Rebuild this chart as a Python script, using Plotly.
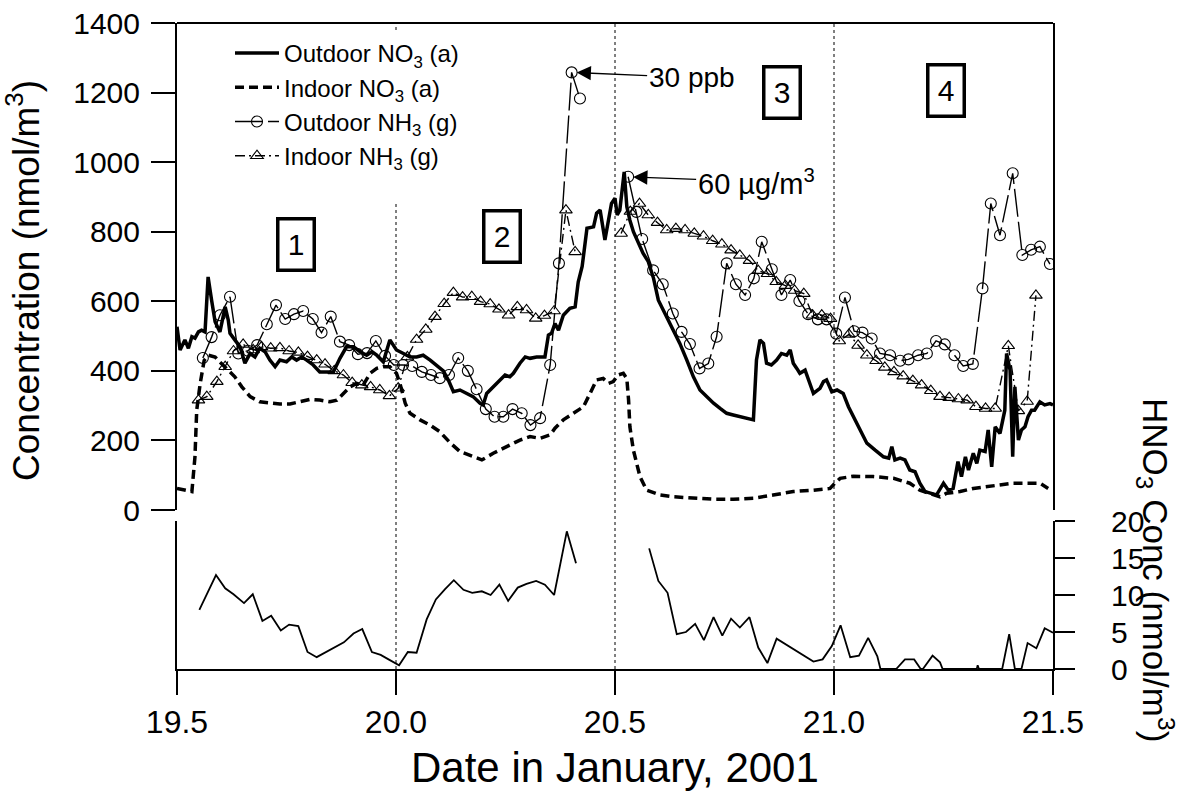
import plotly.graph_objects as go

FONT = "Liberation Sans, Arial, sans-serif"

# ---------------- data ----------------
# Outdoor NO3 (a), nmol/m3
out_no3_t = [19.500, 19.507, 19.518, 19.526, 19.534, 19.541, 19.549, 19.556, 19.564, 19.571,
             19.579, 19.587, 19.598, 19.610, 19.617, 19.621, 19.632, 19.644, 19.655, 19.667,
             19.678, 19.689, 19.701, 19.712, 19.724, 19.735, 19.750, 19.762, 19.773, 19.785,
             19.796, 19.811, 19.826, 19.842, 19.857, 19.872, 19.887, 19.903, 19.918, 19.933,
             19.945, 19.956, 19.971, 19.986, 19.994, 20.001, 20.017, 20.032, 20.047, 20.062,
             20.078, 20.093, 20.108, 20.120, 20.131, 20.146, 20.161, 20.176, 20.192, 20.199,
             20.207, 20.222, 20.237, 20.249, 20.260, 20.268, 20.283, 20.295, 20.306, 20.321,
             20.340, 20.348, 20.355, 20.363, 20.371, 20.382, 20.397, 20.409, 20.416, 20.425,
             20.436, 20.451, 20.458, 20.466, 20.477, 20.485, 20.492, 20.500, 20.505, 20.511,
             20.521, 20.527, 20.534, 20.542, 20.553, 20.564, 20.576, 20.588, 20.599, 20.618,
             20.633, 20.648, 20.664, 20.679, 20.694, 20.709, 20.725, 20.740, 20.755, 20.770,
             20.785, 20.801, 20.816, 20.823, 20.831, 20.839, 20.846, 20.857, 20.869, 20.880,
             20.892, 20.900, 20.907, 20.915, 20.922, 20.934, 20.941, 20.953, 20.968, 20.976,
             20.983, 20.995, 21.007, 21.021, 21.033, 21.044, 21.056, 21.075, 21.094, 21.113,
             21.125, 21.132, 21.139, 21.151, 21.162, 21.173, 21.185, 21.196, 21.208, 21.223,
             21.234, 21.250, 21.261, 21.272, 21.283, 21.291, 21.300, 21.307, 21.318, 21.326,
             21.333, 21.345, 21.352, 21.360, 21.368, 21.379, 21.390, 21.394, 21.402, 21.408,
             21.413, 21.421, 21.428, 21.436, 21.443, 21.451, 21.458, 21.470, 21.481, 21.493,
             21.500]
out_no3_v = [527, 460, 489, 465, 498, 494, 512, 517, 512, 670,
             603, 541, 512, 584, 546, 508, 489, 469, 422, 450,
             440, 465, 455, 431, 412, 431, 426, 440, 431, 440,
             431, 417, 397, 397, 397, 436, 469, 469, 455, 445,
             455, 445, 426, 489, 474, 460, 450, 440, 440, 445,
             431, 417, 400, 372, 340, 345, 335, 326, 307, 302,
             335, 354, 374, 388, 383, 393, 422, 440, 436, 440,
             440, 503, 508, 536, 517, 560, 580, 584, 655, 700,
             810, 814, 853, 862, 776, 833, 881, 896, 848, 862,
             972, 872, 833, 800, 766, 738, 714, 666, 603, 556,
             517, 479, 431, 383, 345, 326, 307, 292, 278, 273,
             268, 264, 259, 431, 489, 479, 422, 417, 431, 450,
             445, 460, 422, 407, 393, 402, 378, 335, 350, 369,
             374, 340, 345, 335, 297, 268, 240, 192, 172, 153,
             149, 182, 144, 149, 144, 115, 110, 77, 53, 48,
             43, 77, 57, 62, 139, 96, 153, 115, 163, 134,
             172, 168, 230, 124, 239, 220, 287, 450, 402, 153,
             354, 201, 230, 239, 268, 287, 287, 311, 302, 306,
             302]

# Indoor NO3 (a), nmol/m3
in_no3_t = [19.500, 19.534, 19.541, 19.545, 19.553, 19.562, 19.572, 19.587, 19.598, 19.613,
            19.632, 19.648, 19.667, 19.689, 19.712, 19.735, 19.758, 19.781, 19.804, 19.826,
            19.849, 19.865, 19.880, 19.895, 19.910, 19.925, 19.941, 19.956, 19.971, 19.986,
            20.001, 20.009, 20.021, 20.032, 20.055, 20.078, 20.100, 20.123, 20.146, 20.169,
            20.196, 20.222, 20.253, 20.283, 20.306, 20.329, 20.352, 20.363, 20.382, 20.405,
            20.428, 20.443, 20.458, 20.473, 20.485, 20.496, 20.507, 20.519, 20.527, 20.531,
            20.534, 20.542, 20.557, 20.572, 20.603, 20.633, 20.679, 20.725, 20.770, 20.816,
            20.861, 20.907, 20.953, 20.991, 21.002, 21.014, 21.044, 21.090, 21.136, 21.173,
            21.196, 21.227, 21.242, 21.257, 21.288, 21.318, 21.349, 21.379, 21.409, 21.440,
            21.470, 21.489]
in_no3_v = [62, 53, 153, 287, 364, 430, 445, 440, 425, 407,
            383, 354, 326, 311, 307, 305, 305, 311, 318, 316,
            311, 316, 335, 354, 364, 359, 393, 407, 412, 412,
            393, 364, 307, 278, 259, 244, 225, 194, 168, 156,
            144, 163, 182, 201, 211, 206, 216, 235, 259, 278,
            297, 335, 374, 378, 364, 369, 388, 393, 378, 316,
            239, 172, 96, 57, 43, 38, 34, 31, 31, 34,
            43, 53, 57, 62, 77, 91, 97, 96, 91, 77,
            57, 43, 38, 48, 53, 62, 67, 72, 77, 77,
            77, 62]

# Outdoor NH3 (g), nmol/m3  (None = gap)
out_nh3_t = [19.559, 19.579, 19.598, 19.621, 19.640, 19.662, 19.683, 19.705, 19.726, 19.747,
             19.767, 19.788, 19.810, 19.830, 19.851, 19.872, 19.893, 19.913, 19.934, 19.954,
             19.975, 19.995, 20.016, 20.037, 20.059, 20.080, 20.100, 20.121, 20.142, 20.164,
             20.184, 20.205, 20.225, 20.245, 20.266, 20.287, 20.307, 20.329, 20.352, 20.372,
             20.401, 20.420, None, 20.530, 20.549, 20.562, 20.587, 20.609, 20.632, 20.652,
             20.671, 20.693, 20.713, 20.732, 20.755, 20.776, 20.797, 20.817, 20.835, 20.858,
             20.880, 20.900, 20.921, 20.941, 20.963, 20.983, 21.005, 21.025, 21.046, 21.065,
             21.086, 21.105, 21.128, 21.151, 21.170, 21.192, 21.212, 21.233, 21.253, 21.275,
             21.295, 21.317, 21.339, 21.358, 21.379, 21.408, 21.430, 21.450, 21.470, 21.493]
out_nh3_v = [437, 497, 560, 613, 450, 458, 474, 534, 589, 549,
             563, 572, 549, 510, 556, 484, 474, 448, 451, 486,
             443, 417, 417, 414, 397, 388, 379, 388, 437, 400,
             347, 290, 268, 268, 290, 278, 244, 264, 417, 709,
             1258, 1183, None, 958, 857, 779, 689, 649, 565, 512,
             477, 407, 421, 498, 709, 649, 618, 666, 771, 692,
             618, 661, 601, 563, 548, 548, 507, 611, 514, 510,
             493, 450, 445, 429, 433, 445, 450, 486, 476, 445,
             414, 420, 637, 881, 790, 968, 733, 748, 757, 707]

# Indoor NH3 (g), nmol/m3  (None = gap)
in_nh3_t = [19.549, 19.568, 19.591, 19.610, 19.629, 19.651, 19.674, 19.693, 19.714, 19.735,
            19.756, 19.777, 19.798, 19.819, 19.838, 19.859, 19.880, 19.900, 19.922, 19.942,
            19.963, 19.985, 20.005, 20.026, 20.047, 20.068, 20.089, 20.110, 20.131, 20.152,
            20.173, 20.193, 20.215, 20.235, 20.257, 20.277, 20.298, 20.319, 20.339, 20.361,
            20.388, 20.409, None, 20.514, 20.535, 20.556, 20.576, 20.597, 20.618, 20.639,
            20.660, 20.681, 20.702, 20.723, 20.744, 20.765, 20.785, 20.807, 20.827, 20.848,
            20.868, 20.889, 20.910, 20.931, 20.951, 20.972, 20.992, 21.012, 21.034, 21.055,
            21.075, 21.096, 21.116, 21.137, 21.158, 21.180, 21.200, 21.221, 21.242, 21.263,
            21.284, 21.304, 21.324, 21.346, 21.368, 21.398, 21.421, 21.441, 21.461]
in_nh3_v = [316, 326, 369, 412, 457, 476, 460, 469, 465, 466,
            457, 453, 441, 431, 419, 400, 388, 366, 359, 354,
            345, 328, 350, 440, 490, 519, 556, 593, 625, 612,
            613, 599, 592, 577, 560, 584, 575, 551, 559, 572,
            862, 742, None, 795, 858, 881, 848, 826, 805, 809,
            805, 795, 787, 774, 764, 747, 732, 717, 688, 679,
            656, 645, 631, 622, 560, 560, 550, 486, 505, 473,
            445, 429, 410, 397, 385, 372, 359, 343, 326, 323,
            319, 316, 297, 292, 292, 472, 285, 312, 617]

# HNO3 concentration, nmol/m3  (None = gap)
hno3_t = [19.551, 19.589, 19.610, 19.629, 19.653, 19.673, 19.695, 19.715, 19.737, 19.756,
          19.777, 19.798, 19.819, 19.840, 19.861, 19.881, 19.903, 19.923, 19.945, 19.965,
          19.986, 20.007, 20.027, 20.047, 20.070, 20.091, 20.112, 20.132, 20.154, 20.174,
          20.196, 20.216, 20.236, 20.256, 20.278, 20.298, 20.320, 20.340, 20.361, 20.390,
          20.411, None, 20.578, 20.599, 20.620, 20.641, 20.662, 20.683, 20.703, 20.725,
          20.745, 20.765, 20.785, 20.807, 20.827, 20.848, 20.869, 20.911, 20.953, 20.974,
          20.995, 21.015, 21.037, 21.057, 21.078, 21.099, 21.106, 21.142, 21.162, 21.183,
          21.198, 21.203, 21.225, 21.242, 21.248, 21.326, 21.328, 21.331, 21.384, 21.400,
          21.413, 21.428, 21.442, 21.462, 21.481, 21.500]
hno3_v = [8.0, 12.7, 10.9, 10.1, 8.9, 10.1, 6.5, 7.2, 5.2, 6.0,
          5.8, 2.3, 1.6, 2.3, 2.9, 3.6, 4.8, 5.4, 2.3, 1.9,
          1.2, 0.5, 2.3, 2.2, 6.7, 9.4, 10.8, 12.0, 10.7, 10.3,
          10.5, 10.0, 11.4, 9.2, 11.0, 11.5, 11.9, 11.4, 10.0, 18.6,
          14.3, None, 16.3, 11.9, 10.3, 4.7, 5.0, 6.1, 3.9, 7.0,
          4.5, 6.8, 5.6, 7.0, 2.9, 0.8, 4.1, 2.6, 1.0, 1.3,
          3.1, 5.9, 1.6, 1.8, 4.2, 1.7, 0.0, 0.0, 1.3, 1.3,
          0.0, 0.0, 1.8, 0.9, 0.0, 0.0, 0.5, 0.0, 0.0, 4.7,
          0.0, 0.0, 3.5, 2.8, 5.5, 4.9]

# tick labels / divisions
x_ticks = [19.5, 20.0, 20.5, 21.0, 21.5]
x_ticktext = ["19.5", "20.0", "20.5", "21.0", "21.5"]
y_ticks = [0, 200, 400, 600, 800, 1000, 1200, 1400]
y2_ticks = [0, 5, 10, 15, 20]
period_lines = [20.0, 20.5, 21.0]
period_labels = ["1", "2", "3", "4"]
period_label_x = [19.772, 20.242, 20.881, 21.256]
period_label_y = [764, 787, 1201, 1207]

# ---------------- figure ----------------
fig = go.Figure()

fig.add_trace(go.Scatter(
    x=out_no3_t, y=out_no3_v, mode="lines", name="Outdoor NO<sub>3</sub> (a)",
    line=dict(color="black", width=3.5), xaxis="x", yaxis="y"))
fig.add_trace(go.Scatter(
    x=in_no3_t, y=in_no3_v, mode="lines", name="Indoor NO<sub>3</sub> (a)",
    line=dict(color="black", width=3.5, dash="9px,5px"), xaxis="x", yaxis="y"))
fig.add_trace(go.Scatter(
    x=out_nh3_t, y=out_nh3_v, mode="lines+markers", name="Outdoor NH<sub>3</sub> (g)",
    line=dict(color="black", width=1.4, dash="28px,5px"),
    marker=dict(symbol="circle-open", size=11, color="black", line=dict(width=1.1)),
    connectgaps=False, xaxis="x", yaxis="y"))
fig.add_trace(go.Scatter(
    x=in_nh3_t, y=in_nh3_v, mode="lines+markers", name="Indoor NH<sub>3</sub> (g)",
    line=dict(color="black", width=1.4, dash="10px,4px,2px,4px"),
    marker=dict(symbol="triangle-up-open", size=11, color="black", line=dict(width=1.1)),
    connectgaps=False, xaxis="x", yaxis="y"))
fig.add_trace(go.Scatter(
    x=hno3_t, y=hno3_v, mode="lines", name="HNO3", showlegend=False,
    line=dict(color="black", width=1.8), connectgaps=False, xaxis="x", yaxis="y2"))

# figure geometry (page pixels; the page margin is removed by a post script)
W, H = 1186, 794
PL, PR, PT, PB = 177, 1053, 23, 669          # plot-area edges
ml, mr, mt, mb = PL, W - PR, PT, H - PB
def px2paper(px):
    return (px - PL) / (PR - PL)
def py2paper(py):
    return (PB - py) / (PB - PT)

upper_bottom = py2paper(510)
lower_top = py2paper(521)

shapes = []
shapes.append(dict(type="line", xref="paper", yref="paper", x0=0, x1=1, y0=1, y1=1,
                   line=dict(color="black", width=2)))
for xv in period_lines:
    if xv == 20.0:
        segs = [(0, py2paper(202)), (py2paper(42), 1)]
    else:
        segs = [(0, 1)]
    for y0, y1 in segs:
        shapes.append(dict(type="line", xref="x", yref="paper", x0=xv, x1=xv, y0=y0, y1=y1,
                           layer="below", line=dict(color="black", width=1, dash="dot")))

annotations = []
for lab, xv, yv in zip(period_labels, period_label_x, period_label_y):
    annotations.append(dict(text=lab, x=xv, y=yv, xref="x", yref="y", showarrow=False,
                            font=dict(family=FONT, size=30, color="black"),
                            bordercolor="black", borderwidth=3.5, borderpad=0,
                            width=33, height=48))

i_peak = out_nh3_v.index(1258)
annotations.append(dict(text="30 ppb", x=out_nh3_t[i_peak], y=out_nh3_v[i_peak],
                        xref="x", yref="y", showarrow=True, ax=120, ay=5,
                        arrowhead=2, arrowsize=2.2, arrowwidth=1.3, arrowcolor="black",
                        standoff=5, font=dict(family=FONT, size=28, color="black")))
i_60 = out_nh3_v.index(958)
annotations.append(dict(text="60 µg/m<sup>3</sup>", x=out_nh3_t[i_60], y=out_nh3_v[i_60],
                        xref="x", yref="y", showarrow=True, ax=128, ay=5,
                        arrowhead=2, arrowsize=2.2, arrowwidth=1.3, arrowcolor="black",
                        standoff=5, font=dict(family=FONT, size=29, color="black")))
# axis titles
annotations.append(dict(text="HNO<sub>3</sub> Conc (nmol/m<sup>3</sup>)", textangle=90,
                        x=px2paper(1156), y=py2paper(570), xref="paper", yref="paper",
                        xanchor="center", yanchor="middle", showarrow=False,
                        font=dict(family=FONT, size=35, color="black")))
annotations.append(dict(text="Concentration (nmol/m<sup>3</sup>)", textangle=-90,
                        x=px2paper(24), y=py2paper(281), xref="paper", yref="paper",
                        xanchor="center", yanchor="middle", showarrow=False,
                        font=dict(family=FONT, size=37, color="black")))
annotations.append(dict(text="Date in January, 2001",
                        x=px2paper(615), y=py2paper(767), xref="paper", yref="paper",
                        xanchor="center", yanchor="middle", showarrow=False,
                        font=dict(family=FONT, size=42, color="black")))

axis_common = dict(showgrid=False, zeroline=False, showline=True, linecolor="black", linewidth=2,
                   ticks="outside", tickwidth=2, tickcolor="black", automargin=False)

fig.update_layout(
    width=W, height=H, margin=dict(l=ml, r=mr, t=mt, b=mb, autoexpand=False),
    paper_bgcolor="white", plot_bgcolor="white",
    font=dict(family=FONT, color="black"),
    xaxis=dict(domain=[0, 1], range=[19.5, 21.5], anchor="y2", tickvals=x_ticks,
               ticktext=x_ticktext, ticklen=24, ticklabelstandoff=0,
               tickfont=dict(family=FONT, size=32, color="black"), **axis_common),
    yaxis=dict(domain=[upper_bottom, 1], range=[0, 1400], anchor="x", tickvals=y_ticks,
               ticklen=24, mirror=True, ticklabelstandoff=5,
               tickfont=dict(family=FONT, size=30, color="black"), **axis_common),
    yaxis2=dict(domain=[0, lower_top], range=[0, 20], anchor="x", side="right", tickvals=y2_ticks,
                ticklen=20, mirror=True, ticklabelstandoff=30,
                tickfont=dict(family=FONT, size=30, color="black"), **axis_common),
    legend=dict(x=px2paper(230), y=py2paper(31), xanchor="left", yanchor="top",
                bgcolor="white", borderwidth=0, itemwidth=44, tracegroupgap=0,
                font=dict(family=FONT, size=24, color="black")),
    shapes=shapes, annotations=annotations, showlegend=True,
)

fig.write_html("out.html", config={"displayModeBar": False},
               post_script="document.body.style.margin='0px';document.body.style.padding='0px';"
                           "document.body.style.overflow='hidden';")
